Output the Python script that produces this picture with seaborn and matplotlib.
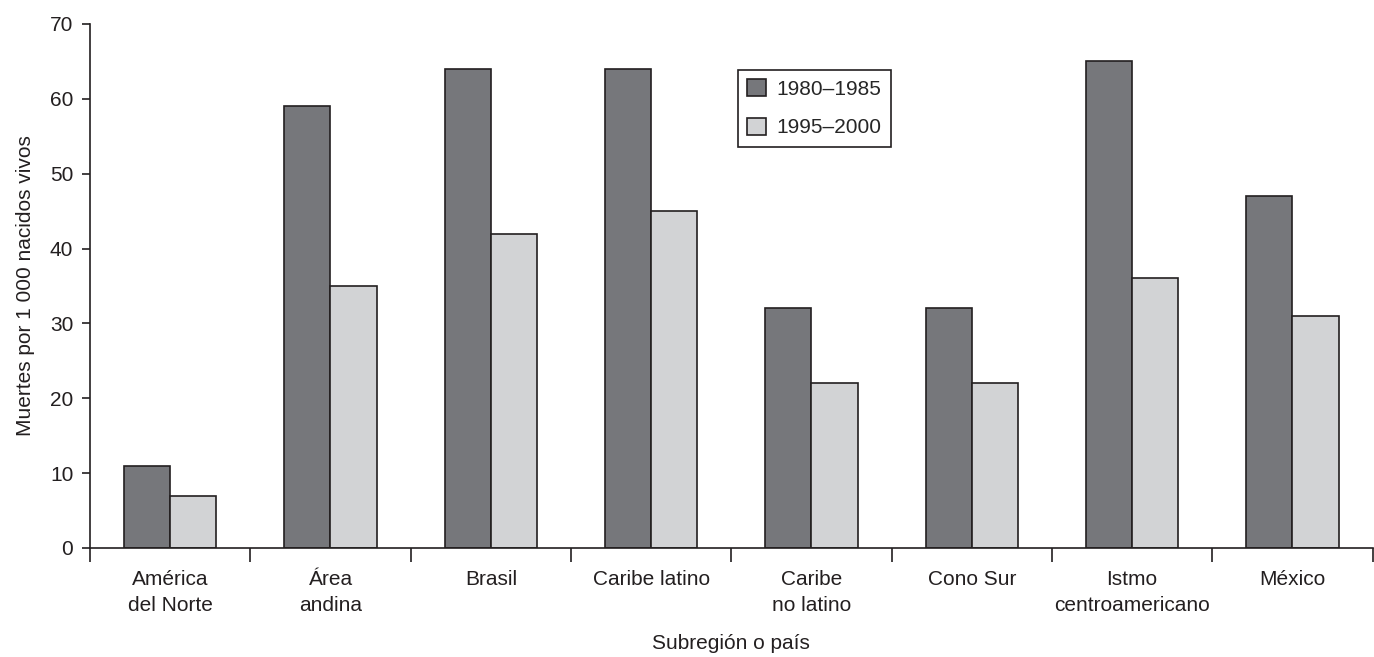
import numpy as np
import pandas as pd
import matplotlib
matplotlib.use("Agg")
import matplotlib.pyplot as plt
import seaborn as sns

# Datos
regiones = ["América\ndel Norte", "Área\nandina", "Brasil", "Caribe latino",
            "Caribe\nno latino", "Cono Sur", "Istmo\ncentroamericano", "México"]
periodos = ["1980–1985", "1995–2000"]
tasa_1980 = [11, 59, 64, 64, 32, 32, 65, 47]
tasa_1995 = [7, 35, 42, 45, 22, 22, 36, 31]
colores = ["#76777b", "#d2d3d5"]

df = pd.DataFrame({
    "region": regiones * 2,
    "periodo": [periodos[0]] * len(regiones) + [periodos[1]] * len(regiones),
    "tasa": tasa_1980 + tasa_1995,
})

sns.set_style("white")
plt.rcParams["font.family"] = ["Liberation Sans", "DejaVu Sans"]

fig = plt.figure(figsize=(13.74, 6.57), dpi=100)
ax = fig.add_axes([0.0655, 0.166, 0.9335, 0.7975])

sns.barplot(data=df, x="region", y="tasa", hue="periodo", order=regiones,
            hue_order=periodos, palette=colores, saturation=1, width=0.575,
            edgecolor="#231f20", linewidth=1.2, ax=ax)

ax.set_xlim(-0.5, len(regiones) - 0.5)
ax.set_ylim(0, 70)
ax.set_yticks(np.arange(0, 71, 10))

ax.spines["top"].set_visible(False)
ax.spines["right"].set_visible(False)
for s in ["left", "bottom"]:
    ax.spines[s].set_color("#231f20")
    ax.spines[s].set_linewidth(1.2)

# marcas en los límites entre categorías
ax.set_xticks(np.arange(-0.5, len(regiones), 1), minor=True)
ax.tick_params(axis="x", which="minor", bottom=True, length=10, width=1.2,
               color="#231f20", direction="out")
ax.tick_params(axis="x", which="major", bottom=True, length=0, pad=16,
               labelsize=15, colors="#231f20")
for lbl in ax.get_xticklabels():
    lbl.set_linespacing(1.45)
ax.tick_params(axis="y", length=6, width=1.2, color="#231f20", labelsize=15,
               labelcolor="#231f20", left=True, pad=6)
ax.spines["left"].set_bounds(0, 70)

ax.set_xlabel("Subregión o país", fontsize=15, color="#231f20", labelpad=14)
ax.set_ylabel("Muertes por 1 000 nacidos vivos", fontsize=15, color="#231f20", labelpad=11)

leg = ax.legend(loc="upper left", bbox_to_anchor=(0.505, 0.913), fontsize=15,
                frameon=True, fancybox=False, edgecolor="#231f20", framealpha=1,
                handlelength=0.9, handleheight=0.9, handletextpad=0.5,
                labelspacing=0.9, borderpad=0.45, borderaxespad=0, title=None)
leg.get_frame().set_linewidth(1.2)

fig.savefig("out.png", dpi=100)
plt.close(fig)
